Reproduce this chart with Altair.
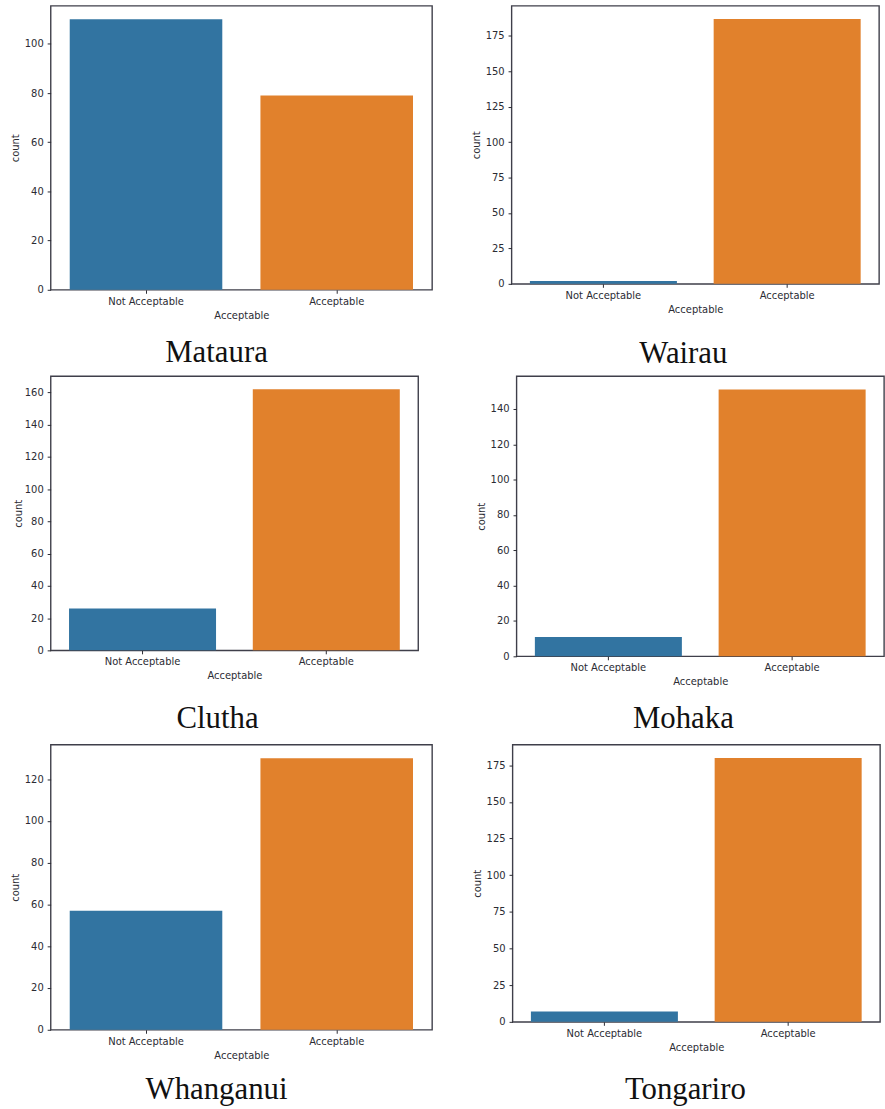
import altair as alt
import pandas as pd

# Counts of samples per water-quality class for each river
rivers = ["Mataura", "Wairau", "Clutha", "Mohaka", "Whanganui", "Tongariro"]
categories = ["Not Acceptable", "Acceptable"]
not_acceptable = [110, 2, 26, 11, 57, 7]
acceptable = [79, 187, 162, 151, 130, 180]

# y tick values per panel
y_ticks = [
    [0, 20, 40, 60, 80, 100],
    [0, 25, 50, 75, 100, 125, 150, 175],
    [0, 20, 40, 60, 80, 100, 120, 140, 160],
    [0, 20, 40, 60, 80, 100, 120, 140],
    [0, 20, 40, 60, 80, 100, 120],
    [0, 25, 50, 75, 100, 125, 150, 175],
]

BLUE = "#3274a1"
ORANGE = "#e1812c"
INK = "#2b2b33"
AXIS_FONT = "DejaVu Sans"


def panel(i, width, height, title_offset=14, title_dx=0, ytitle_pad=4):
    df = pd.DataFrame({
        "Acceptable": categories,
        "count": [not_acceptable[i], acceptable[i]],
    })
    top = max(not_acceptable[i], acceptable[i]) * 1.05
    return (
        alt.Chart(df)
        .mark_bar()
        .encode(
            x=alt.X(
                "Acceptable:N",
                sort=categories,
                scale=alt.Scale(paddingInner=0.2, paddingOuter=0.1),
                axis=alt.Axis(
                    title="Acceptable",
                    labelAngle=0,
                    domain=False,
                    ticks=True,
                    tickSize=3.5,
                    tickColor=INK,
                    labelPadding=3,
                    labelFont=AXIS_FONT,
                    labelFontSize=10,
                    labelColor=INK,
                    titleFont=AXIS_FONT,
                    titleFontSize=10,
                    titleFontWeight="normal",
                    titleColor=INK,
                    titlePadding=4,
                ),
            ),
            y=alt.Y(
                "count:Q",
                scale=alt.Scale(domain=[0, top], nice=False),
                axis=alt.Axis(
                    title="count",
                    values=y_ticks[i],
                    grid=False,
                    domain=False,
                    tickSize=3.5,
                    tickColor=INK,
                    labelPadding=4,
                    labelFont=AXIS_FONT,
                    labelFontSize=10,
                    labelColor=INK,
                    titleFont=AXIS_FONT,
                    titleFontSize=10,
                    titleFontWeight="normal",
                    titleColor=INK,
                    titlePadding=ytitle_pad,
                ),
            ),
            color=alt.Color(
                "Acceptable:N",
                scale=alt.Scale(domain=categories, range=[BLUE, ORANGE]),
                legend=None,
            ),
        )
        .properties(
            width=width,
            height=height,
            title=alt.TitleParams(
                rivers[i],
                orient="bottom",
                anchor="middle",
                font="Liberation Serif",
                fontSize=31,
                fontWeight="normal",
                color="#111111",
                offset=title_offset,
                dx=title_dx,
            ),
        )
    )


row1 = alt.hconcat(
    panel(0, 384, 286, title_offset=18, title_dx=-25),
    panel(1, 370, 280, title_offset=25, title_dx=-12),
    spacing=37,
)
row2 = alt.hconcat(
    panel(2, 370, 276, title_offset=24, title_dx=-17, ytitle_pad=1),
    panel(3, 370, 282, title_offset=18, title_dx=-17),
    spacing=56,
)
row3 = alt.hconcat(
    panel(4, 384, 287, title_offset=15, title_dx=-25),
    panel(5, 370, 279, title_offset=23, title_dx=-11),
    spacing=38,
)

chart = (
    alt.vconcat(row1, alt.vconcat(row2, row3, spacing=8), spacing=5)
    .properties(padding={"left": 9, "top": 1, "right": 0, "bottom": 0})
    .configure(background="white")
    .configure_view(stroke="#3f3f4a", strokeWidth=1.4)
)

chart.save("out.html", embed_options={"renderer": "svg", "actions": False})
